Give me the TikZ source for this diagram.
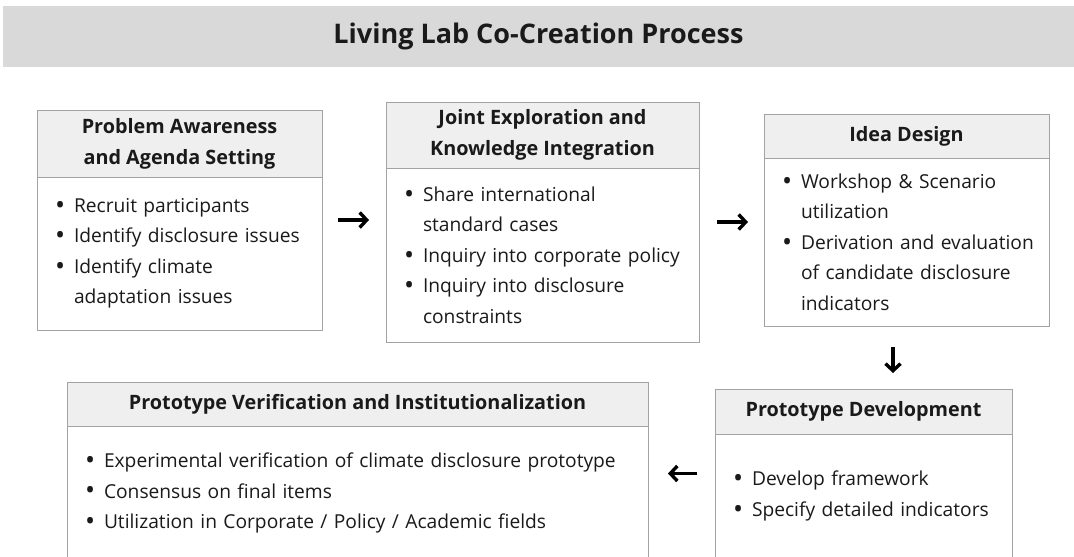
\documentclass[tikz,border=0pt]{standalone}
\usepackage{fontspec}
\setmainfont{Open Sans}
\usetikzlibrary{positioning,fit,arrows.meta}
\definecolor{bannergray}{HTML}{D9D9D9}
\definecolor{headgray}{HTML}{EFEFEF}
\definecolor{edgegray}{HTML}{A3A3A3}
\definecolor{ink}{HTML}{1A1A1A}
\newcommand{\bul}{\hspace*{10pt}\makebox[19pt][l]{\raisebox{-0.1em}{\scalebox{1.4}{\textbullet}}}}
\newcommand{\ind}{\hspace*{29pt}}

\begin{document}
\begin{tikzpicture}[x=1pt, y=-1pt,
  every node/.style={outer sep=0pt, text=ink},
  head/.style={draw=edgegray, fill=headgray, line width=1pt, align=center, inner sep=0pt,
    font=\fontsize{19.8}{31}\selectfont\bfseries},
  body/.style={draw=edgegray, fill=white, line width=1pt, align=left, inner xsep=8pt, inner ysep=0pt,
    font=\fontsize{19.2}{30.5}\selectfont},
  flow/.style={line width=3.4pt, -{Straight Barb[length=7pt,width=15pt]}}]
  \path[use as bounding box, clip] (0,0) rectangle (1074,557);

  \node (title) at (538.5,36.5) [fill=bannergray, minimum width=1071, minimum height=61,
    font=\fontsize{27}{30}\selectfont\bfseries] {Living Lab Co-Creation Process};

  % top row
  \node (h1) at (179.5,143.5) [head, minimum width=285, minimum height=67] {Problem Awareness\\and Agenda Setting};
  \node (b1) [body, below=0pt of h1, text width=269pt, minimum height=153]
    {\bul Recruit participants\\ \bul Identify disclosure issues\\ \bul Identify climate\\ \ind adaptation issues};
  \node (h2) at (542.5,135) [head, minimum width=313, minimum height=66] {Joint Exploration and\\Knowledge Integration};
  \node (b2) [body, below=0pt of h2, text width=297pt, minimum height=174]
    {\bul Share international\\ \ind standard cases\\ \bul Inquiry into corporate policy\\ \bul Inquiry into disclosure\\ \ind constraints};
  \node (h3) at (906.5,136) [head, minimum width=285, minimum height=44] {Idea Design};
  \node (b3) [body, below=0pt of h3, text width=269pt, minimum height=168]
    {\bul Workshop \& Scenario\\ \ind utilization\\ \bul Derivation and evaluation\\ \ind of candidate disclosure\\ \ind indicators};

  % bottom row
  \node (h4) at (863.5,411.5) [head, minimum width=297, minimum height=45] {Prototype Development};
  \node (b4) [body, below=0pt of h4, text width=281pt, minimum height=124]
    {\bul Develop framework\\ \bul Specify detailed indicators};
  \node (h5) at (357.5,404) [head, minimum width=581, minimum height=44] {Prototype Verification and Institutionalization};
  \node (b5) [body, below=0pt of h5, text width=565pt, minimum height=134]
    {\bul Experimental verification of climate disclosure prototype\\ \bul Consensus on final items\\ \bul Utilization in Corporate / Policy / Academic fields};

  \node (box1) [fit=(h1)(b1), inner sep=0pt] {};
  \node (box2) [fit=(h2)(b2), inner sep=0pt] {};
  \node (box3) [fit=(h3)(b3), inner sep=0pt] {};
  \node (box4) [fit=(h4)(b4), inner sep=0pt] {};
  \node (box5) [fit=(h5)(b5), inner sep=0pt] {};

  \draw[flow, shorten <=16pt, shorten >=17pt] (box1.east) -- (box1.east -| box2.west);
  \draw[flow, shorten <=18pt, shorten >=16pt] (box2.east) -- (box2.east -| box3.west);
  \draw[flow, shorten <=21pt, shorten >=16pt] ([xshift=-13.5pt]box3.south) -- ([xshift=-13.5pt]box3.south |- box4.north);
  \draw[flow, shorten <=18pt, shorten >=20pt] (box4.west) -- (box4.west -| box5.east);
\end{tikzpicture}
\end{document}
